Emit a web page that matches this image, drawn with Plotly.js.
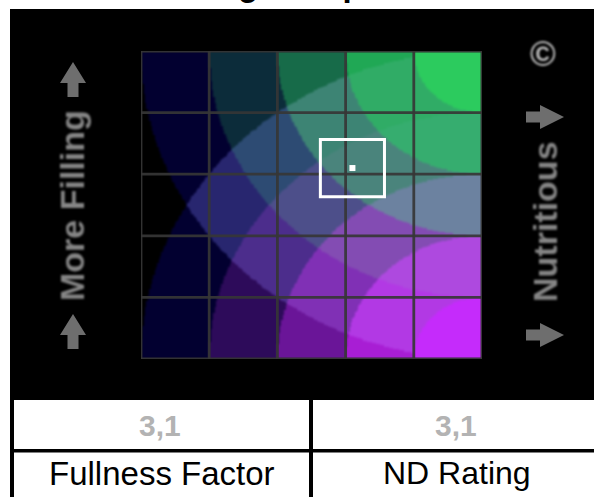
<!DOCTYPE html>
<html><head><meta charset="utf-8">
<script src="https://cdn.plot.ly/plotly-3.0.1.min.js"></script>
<style>html,body{margin:0;padding:0;background:#fff;overflow:hidden}#c{width:594px;height:497px}</style>
</head><body><div id="c"></div>
<script>
const W = 594, H = 497;
const fullnessFactor = 3.1;
const ndRating = 3.1;
const boxHalfX = 0.47, boxHalfY = 0.465;
const gridLevels = [0, 1, 2, 3, 4, 5];
const ringRadii = [1, 2, 3, 4, 5];
// region colours: row = ring around the top-right corner (0 = outside), column = ring around the bottom-right corner
const ringColours0 = ['#000000', '#c52bfb', '#a81ed4', '#6a1598', '#2d0b5a', '#020030'];
const ringColours1 = ['#2ccb5e', '#c52bfb', '#ae49df', '#6c82a0', '#36ad6f', '#2ccb5e'];
const ringColours2 = ['#20a855', '#c52bfb', '#ae49df', '#6c82a0', '#36ad6f', '#30ac66'];
const ringColours3 = ['#176b49', '#c52bfb', '#ae49df', '#6c82a0', '#4a847c', '#3d8474'];
const ringColours4 = ['#0c2c3a', '#c52bfb', '#ae49df', '#834cb3', '#4d4f8a', '#2d4b73'];
const ringColours5 = ['#020030', '#c52bfb', '#b239e4', '#8030b5', '#4c2d8c', '#28266f'];
const ringColours = [ringColours0, ringColours1, ringColours2, ringColours3, ringColours4, ringColours5];
const sideLabels = ['More Filling', 'Nutritious'];
const titleText = 'Nutritional Target Map';
const tableValues = ['3,1', '3,1'];
const tableHeaders = ['Fullness Factor', 'ND Rating'];

const px = x => x / W, py = y => 1 - y / H;
const rgb = h => [1, 3, 5].map(i => parseInt(h.substr(i, 2), 16));
const ringOf = d => { for (let r = 0; r < ringRadii.length; r++) if (d <= ringRadii[r]) return ringRadii[r]; return 0; };

const step = 0.02, n = Math.round(5 / step);
const z = [];
for (let r = 0; r < n; r++) {
  const y = (r + 0.5) * step, row = [];
  for (let c = 0; c < n; c++) {
    const x = (c + 0.5) * step;
    const a = ringOf(Math.hypot(5 - x, 5 - y)), b = ringOf(Math.hypot(5 - x, y));
    row.push(rgb(ringColours[a][b]));
  }
  z.push(row);
}

const paperRect = (x0, y0, x1, y1, fill, layer) => ({type: 'rect', xref: 'paper', yref: 'paper', x0: px(x0), x1: px(x1), y0: py(y1), y1: py(y0), fillcolor: fill, line: {width: 0}, layer: layer || 'below'});
const poly = pts => 'M' + pts.map(p => px(p[0]) + ',' + py(p[1])).join('L') + 'Z';
const upArrow = (cx, t) => poly([[cx, t], [cx + 13, t + 21], [cx + 5.5, t + 21], [cx + 5.5, t + 35], [cx - 5.5, t + 35], [cx - 5.5, t + 21], [cx - 13, t + 21]]);
const rightArrow = (cy) => poly([[564, cy], [540, cy - 12], [540, cy - 5.5], [526, cy - 5.5], [526, cy + 5.5], [540, cy + 5.5], [540, cy + 12]]);
const arrowShape = d => ({type: 'path', xref: 'paper', yref: 'paper', path: d, fillcolor: '#6e6e6e', line: {width: 0}, layer: 'above'});

const shapes = [
  paperRect(10, 9, 594, 400, '#000000'),
  paperRect(10, 400, 14, 497, '#000000'),
  paperRect(14, 449, 594, 452.5, '#000000'),
  paperRect(309, 400, 313, 497, '#000000')
];
gridLevels.forEach(g => {
  shapes.push({type: 'line', xref: 'x', yref: 'y', x0: g, x1: g, y0: 0, y1: 5, line: {color: 'rgba(54,54,54,0.92)', width: 2.8}, layer: 'above'});
  shapes.push({type: 'line', xref: 'x', yref: 'y', x0: 0, x1: 5, y0: g, y1: g, line: {color: 'rgba(54,54,54,0.92)', width: 2.8}, layer: 'above'});
});
shapes.push({type: 'rect', xref: 'x', yref: 'y', x0: fullnessFactor - boxHalfX, x1: fullnessFactor + boxHalfX, y0: ndRating - boxHalfY, y1: ndRating + boxHalfY, fillcolor: 'rgba(0,0,0,0)', line: {color: '#ffffff', width: 3}, layer: 'above'});
shapes.push(arrowShape(upArrow(73, 62)), arrowShape(upArrow(73, 314)), arrowShape(rightArrow(117)), arrowShape(rightArrow(335)));

const ann = (text, x, y, font, extra) => Object.assign({text, xref: 'paper', yref: 'paper', x: px(x), y: py(y), xanchor: 'center', yanchor: 'middle', showarrow: false, font: Object.assign({family: 'Liberation Sans, Arial, sans-serif'}, font)}, extra || {});
const annotations = [
  ann(sideLabels[0], 72, 206, {size: 34, color: '#858585', weight: 700}, {textangle: -90}),
  ann(sideLabels[1], 545, 222, {size: 34, color: '#858585', weight: 700}, {textangle: -90}),
  ann('©', 543, 53, {size: 35, color: '#bcbcbc', weight: 700}),
  ann(titleText, 13, 5, {size: 33, color: '#000000', weight: 700}, {xanchor: 'left', yanchor: 'bottom'}),
  ann(tableValues[0], 160, 425, {size: 30, color: '#b3b3b3', weight: 700}),
  ann(tableValues[1], 456, 425, {size: 30, color: '#b3b3b3', weight: 700}),
  ann(tableHeaders[0], 162, 473, {size: 33, color: '#000000'}),
  ann(tableHeaders[1], 457, 473, {size: 32, color: '#000000'})
];

const data = [
  {type: 'image', z: z, x0: step / 2, y0: step / 2, dx: step, dy: step, hoverinfo: 'skip'},
  {type: 'scatter', mode: 'markers', x: [fullnessFactor], y: [ndRating], marker: {symbol: 'square', size: 6, color: '#ffffff'}, hoverinfo: 'skip'}
];
const hidden = {range: [0, 5], visible: false, showgrid: false, zeroline: false, fixedrange: true};
const layout = {
  width: W, height: H, margin: {l: 0, r: 0, t: 0, b: 0}, paper_bgcolor: '#ffffff', plot_bgcolor: '#000000', showlegend: false,
  xaxis: Object.assign({}, hidden, {domain: [px(141), px(482)]}),
  yaxis: Object.assign({}, hidden, {domain: [py(359), py(51)], scaleanchor: false, autorange: false}),
  shapes, annotations
};
Plotly.newPlot('c', data, layout, {displayModeBar: false, staticPlot: true}).then(() => {
  document.querySelectorAll('.imagelayer image').forEach(e => e.style.filter = 'blur(1.3px)');
  [0, 1, 2].forEach(i => { const e = document.querySelector('.annotation[data-index="' + i + '"]'); if (e) e.style.filter = 'blur(1px)'; });
  document.querySelectorAll('.layer-above .shapelayer path').forEach(e => e.style.filter = 'blur(0.7px)');
});
</script></body></html>
